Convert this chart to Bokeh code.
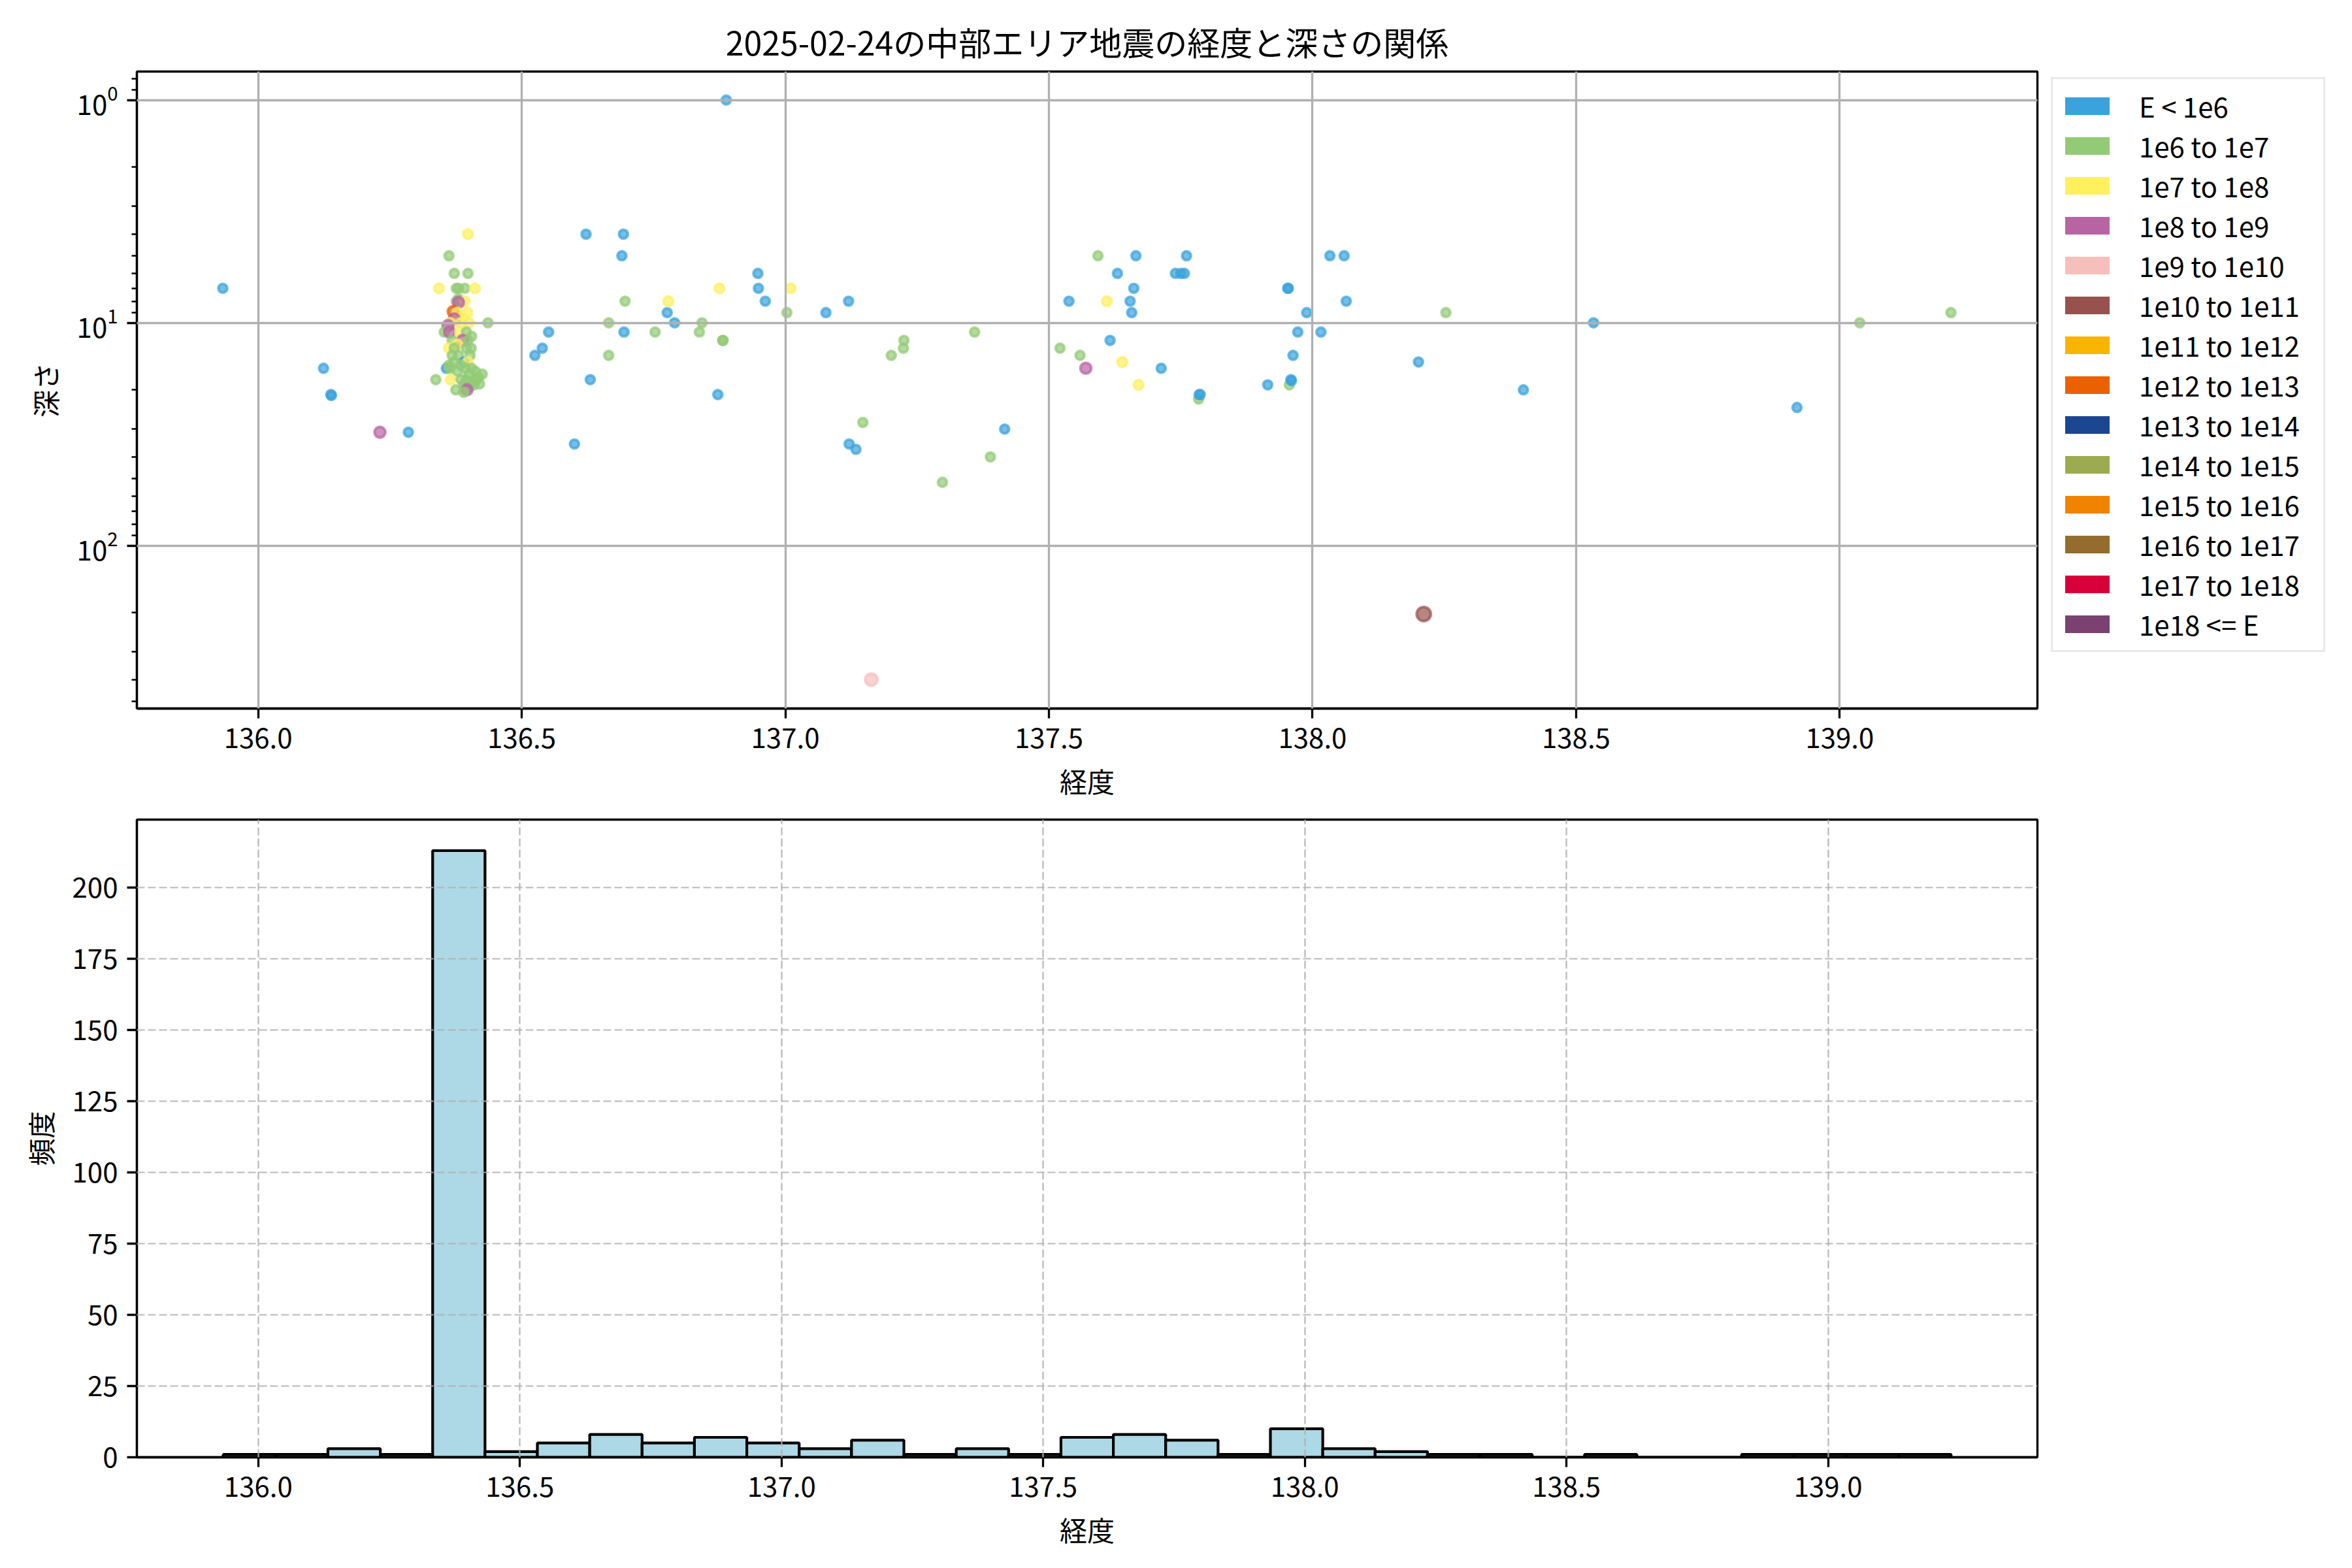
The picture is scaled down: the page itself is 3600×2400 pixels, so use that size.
import numpy as np
from bokeh.plotting import figure
from bokeh.layouts import column, row
from bokeh.models import (ColumnDataSource, Range1d, FixedTicker, Legend, LegendItem,
                          PrintfTickFormatter, LogTickFormatter)
from bokeh.embed import file_html
from bokeh.resources import INLINE

FONT = "Noto Sans CJK JP"

title_text = "2025-02-24の中部エリア地震の経度と深さの関係"
x_label = "経度"
y_label_top = "深さ"
y_label_bottom = "頻度"

energy_labels = ["E < 1e6", "1e6 to 1e7", "1e7 to 1e8", "1e8 to 1e9", "1e9 to 1e10",
                 "1e10 to 1e11", "1e11 to 1e12", "1e12 to 1e13", "1e13 to 1e14",
                 "1e14 to 1e15", "1e15 to 1e16", "1e16 to 1e17", "1e17 to 1e18",
                 "1e18 <= E"]
energy_colors = ["#3ba2db", "#93ca76", "#fff05f", "#b964a2", "#f5bfbb", "#97524e",
                 "#f8b500", "#eb6100", "#1b4690", "#9cab4f", "#f08300", "#946c2d",
                 "#d7003a", "#7a4171"]

# scattered events (longitude, depth km, energy class index)
lon_outer = [135.933, 136.124, 136.138, 136.139, 136.231, 136.285, 136.436, 136.525,
             136.539, 136.551, 136.600, 136.622, 136.630, 136.665, 136.665, 136.690,
             136.693, 136.694, 136.696, 136.753, 136.776, 136.778, 136.790, 136.837,
             136.842, 136.872, 136.875, 136.881, 136.882, 136.888, 136.948, 136.949,
             136.962, 137.003, 137.010, 137.077, 137.120, 137.121, 137.134, 137.147,
             137.163, 137.201, 137.224, 137.225, 137.298, 137.359, 137.389, 137.416,
             137.521, 137.538, 137.559, 137.570, 137.593, 137.610, 137.616, 137.630,
             137.639, 137.654, 137.657, 137.661, 137.665, 137.670, 137.713, 137.740,
             137.750, 137.757, 137.761, 137.784, 137.785, 137.787, 137.915, 137.953,
             137.954, 137.956, 137.959, 137.960, 137.963, 137.972, 137.989, 138.016,
             138.033, 138.060, 138.064, 138.201, 138.211, 138.253, 138.400, 138.533,
             138.919, 139.038, 139.211]
depth_outer = [7.0, 16.0, 21.0, 21.2, 31.0, 31.0, 10.0, 14.0,
               13.0, 11.0, 35.0, 4.0, 18.0, 10.0, 14.0, 5.0,
               4.0, 11.0, 8.0, 11.0, 9.0, 8.0, 10.0, 11.0,
               10.0, 21.0, 7.0, 12.0, 12.0, 1.0, 6.0, 7.0,
               8.0, 9.0, 7.0, 9.0, 8.0, 35.0, 37.0, 28.0,
               400.0, 14.0, 13.0, 12.0, 52.0, 11.0, 40.0, 30.0,
               13.0, 8.0, 14.0, 16.0, 5.0, 8.0, 12.0, 6.0,
               15.0, 8.0, 9.0, 7.0, 5.0, 19.0, 16.0, 6.0,
               6.0, 6.0, 5.0, 22.0, 21.0, 21.0, 19.0, 7.0,
               7.0, 19.0, 18.0, 18.2, 14.0, 11.0, 9.0, 11.0,
               5.0, 5.0, 8.0, 15.0, 203.0, 9.0, 20.0, 10.0,
               24.0, 10.0, 9.0]
class_outer = [0, 0, 0, 0, 3, 0, 1, 0,
               0, 0, 0, 0, 0, 1, 1, 0,
               0, 0, 1, 1, 0, 2, 0, 1,
               1, 0, 2, 1, 1, 0, 0, 0,
               0, 1, 2, 0, 0, 0, 0, 1,
               4, 1, 1, 1, 1, 1, 1, 0,
               1, 0, 1, 3, 1, 2, 0, 0,
               2, 0, 0, 0, 0, 2, 0, 0,
               0, 0, 0, 1, 0, 0, 0, 0,
               0, 1, 0, 0, 0, 0, 0, 0,
               0, 0, 0, 0, 5, 1, 0, 0,
               0, 1, 1]

# dense swarm near 136.4E
lon_swarm = [136.398, 136.362, 136.372, 136.398, 136.343, 136.376, 136.380, 136.392,
             136.411, 136.380, 136.376, 136.392, 136.380, 136.370, 136.378, 136.397,
             136.388, 136.372, 136.365, 136.385, 136.400, 136.360, 136.353, 136.363,
             136.383, 136.395, 136.405, 136.388, 136.398, 136.368, 136.378, 136.362,
             136.372, 136.395, 136.404, 136.368, 136.380, 136.402, 136.390, 136.398,
             136.357, 136.362, 136.372, 136.384, 136.364, 136.378, 136.393, 136.405,
             136.412, 136.400, 136.418, 136.337, 136.365, 136.385, 136.395, 136.405,
             136.415, 136.425, 136.390, 136.400, 136.410, 136.420, 136.396, 136.375,
             136.390]
depth_swarm = [4.0, 5.0, 6.0, 6.0, 7.0, 7.0, 7.0, 7.0,
               7.0, 7.8, 8.0, 8.0, 8.1, 8.9, 9.0, 9.0,
               9.5, 9.6, 10.0, 10.0, 10.0, 10.3, 11.0, 11.0,
               11.0, 11.0, 11.5, 12.0, 12.0, 12.0, 12.5, 13.0,
               13.0, 13.0, 13.0, 14.0, 14.0, 14.0, 15.0, 15.0,
               16.0, 15.5, 15.0, 15.5, 16.0, 16.5, 16.0, 16.0,
               16.5, 17.0, 17.5, 18.0, 18.0, 18.0, 18.0, 18.5,
               18.0, 17.0, 19.0, 19.5, 19.0, 18.8, 20.0, 20.0,
               20.5]
class_swarm = [2, 1, 1, 1, 2, 1, 1, 1,
               2, 1, 1, 2, 3, 7, 2, 2,
               2, 3, 2, 2, 2, 3, 1, 3,
               2, 1, 1, 3, 1, 1, 2, 2,
               1, 1, 1, 1, 1, 1, 0, 2,
               0, 1, 1, 1, 1, 1, 1, 1,
               1, 1, 1, 1, 2, 1, 1, 1,
               1, 1, 1, 1, 1, 1, 3, 1,
               1]

# histogram of longitude (33 bins)
hist_range = (135.933, 139.235)
hist_counts = [1, 1, 3, 1, 213, 2, 5, 8, 5, 7, 5, 3, 6, 1, 3, 1, 7, 8, 6, 1,
               10, 3, 2, 1, 1, 0, 1, 0, 0, 1, 1, 1, 1]

# ---------- styles ----------
class_size = [13.5, 13.5, 14.5, 16.5, 18.5, 21.5, 16.5, 16.5, 16.5, 16.5, 16.5, 16.5, 16.5, 16.5]
TICK_FS = "42px"
LABEL_FS = "42px"
LW = 3.3
FRAME_W = 2909
FRAME_H = 975
FIG_W = 3137
LEG_PAD = 10
LEG_ITEM_H = 61
LEG_H = 2 * LEG_PAD + LEG_ITEM_H * len(energy_labels)
LEGFIG_W = 440
LEGFIG_H = 1010


def style_axes(p):
    for ax in p.axis:
        ax.axis_line_color = "black"
        ax.axis_line_width = LW
        ax.major_tick_line_color = "black"
        ax.major_tick_line_width = LW
        ax.major_tick_out = 15
        ax.major_tick_in = 0
        ax.minor_tick_line_color = "black"
        ax.minor_tick_line_width = 2.5
        ax.minor_tick_out = 8
        ax.minor_tick_in = 0
        ax.major_label_text_font = FONT
        ax.major_label_text_font_size = TICK_FS
        ax.major_label_text_color = "black"
        ax.major_label_standoff = 14
        ax.axis_label_text_font = FONT
        ax.axis_label_text_font_size = LABEL_FS
        ax.axis_label_text_font_style = "normal"
        ax.axis_label_text_color = "black"
        ax.axis_label_standoff = 16
    p.xaxis.minor_tick_line_color = None
    p.outline_line_color = "black"
    p.outline_line_width = LW
    p.background_fill_color = "white"
    p.border_fill_color = "white"


# ---------- top scatter ----------
lons = lon_outer + lon_swarm
depths = depth_outer + depth_swarm
classes = class_outer + class_swarm
src = ColumnDataSource(dict(
    lon=lons, depth=depths,
    color=[energy_colors[c] for c in classes],
    size=[class_size[c] for c in classes],
))

p1 = figure(width=FIG_W, height=1230, output_backend="svg", toolbar_location=None,
            x_range=Range1d(135.770, 139.375), y_range=Range1d(539.0, 0.745),
            y_axis_type="log",
            min_border_left=209, min_border_right=FIG_W - 209 - FRAME_W,
            min_border_top=109, min_border_bottom=1230 - 109 - FRAME_H)
p1.title.text = title_text
p1.title.align = "center"
p1.title.text_font = FONT
p1.title.text_font_size = "50px"
p1.title.text_font_style = "normal"
p1.title.text_color = "black"
p1.title.standoff = 22

p1.scatter("lon", "depth", source=src, size="size", marker="circle",
           fill_color="color", line_color="color", fill_alpha=0.7, line_alpha=0.7,
           line_width=4.2)

p1.xaxis.ticker = FixedTicker(ticks=[136.0, 136.5, 137.0, 137.5, 138.0, 138.5, 139.0])
p1.xaxis.formatter = PrintfTickFormatter(format="%.1f")
p1.yaxis.ticker = FixedTicker(
    ticks=[1, 10, 100],
    minor_ticks=[0.8, 0.9, 2, 3, 4, 5, 6, 7, 8, 9, 20, 30, 40, 50, 60, 70, 80, 90,
                 200, 300, 400, 500])
p1.yaxis.formatter = LogTickFormatter()
p1.xaxis.axis_label = x_label
p1.yaxis.axis_label = y_label_top
style_axes(p1)
p1.grid.grid_line_color = "#b0b0b0"
p1.grid.grid_line_width = LW
p1.grid.level = "guide"

# ---------- legend (its own small canvas to the right of the scatter) ----------
pleg = figure(width=LEGFIG_W, height=LEGFIG_H, output_backend="svg", toolbar_location=None,
              x_range=Range1d(0, 1), y_range=Range1d(0, 1),
              x_axis_type=None, y_axis_type=None,
              min_border_left=0, min_border_right=0, min_border_top=0, min_border_bottom=0)
pleg.outline_line_color = None
pleg.grid.visible = False
pleg.background_fill_color = "white"
pleg.border_fill_color = "white"
items = []
for lab, col in zip(energy_labels, energy_colors):
    r = pleg.quad(left=[np.nan], right=[np.nan], top=[np.nan], bottom=[np.nan],
                  fill_color=col, line_color=None)
    items.append(LegendItem(label=lab, renderers=[r]))
legend = Legend(items=items, location=(2, LEGFIG_H - 124 - LEG_H), margin=0,
                label_text_font=FONT, label_text_font_size="42px", label_text_color="black",
                glyph_width=85, glyph_height=34, label_standoff=37, spacing=0,
                label_width=272,
                padding=LEG_PAD, border_line_color="#d4d4d4", border_line_width=3,
                background_fill_color="white", background_fill_alpha=1.0)
pleg.add_layout(legend, "center")

# ---------- bottom histogram ----------
edges = np.linspace(hist_range[0], hist_range[1], len(hist_counts) + 1)
hsrc = ColumnDataSource(dict(left=edges[:-1], right=edges[1:], top=hist_counts,
                             bottom=[0] * len(hist_counts)))

p2 = figure(width=FIG_W, height=1162, output_backend="svg", toolbar_location=None,
            x_range=Range1d(135.768, 139.400), y_range=Range1d(0, 223.9),
            min_border_left=209, min_border_right=FIG_W - 209 - FRAME_W,
            min_border_top=24, min_border_bottom=1162 - 24 - 976)
p2.quad(left="left", right="right", top="top", bottom="bottom", source=hsrc,
        fill_color="#add8e6", line_color="black", line_width=4.2)
p2.xaxis.ticker = FixedTicker(ticks=[136.0, 136.5, 137.0, 137.5, 138.0, 138.5, 139.0])
p2.xaxis.formatter = PrintfTickFormatter(format="%.1f")
p2.yaxis.ticker = FixedTicker(ticks=[0, 25, 50, 75, 100, 125, 150, 175, 200])
p2.xaxis.axis_label = x_label
p2.yaxis.axis_label = y_label_bottom
style_axes(p2)
p2.yaxis.minor_tick_line_color = None
p2.grid.grid_line_color = "#b0b0b0"
p2.grid.grid_line_alpha = 0.9
p2.grid.grid_line_width = 2.2
p2.grid.grid_line_dash = "12 5"
p2.grid.level = "guide"

layout = row(column(p1, p2), pleg)
open("out.html", "w").write(file_html(layout, INLINE))
